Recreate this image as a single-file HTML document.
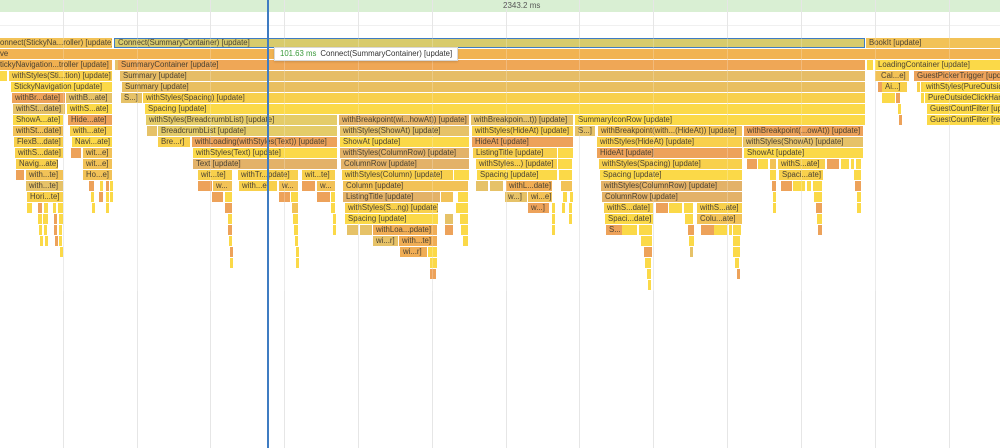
<!DOCTYPE html>
<html><head><meta charset="utf-8">
<style>
html,body{margin:0;padding:0;}
body{width:1000px;height:448px;position:relative;overflow:hidden;background:#fff;font-family:"Liberation Sans",Arial,sans-serif;}
.top{position:absolute;left:0;top:0;width:1000px;height:12px;background:#d9efd3;}
.toptxt{position:absolute;left:0;top:0;width:1000px;height:12px;line-height:12px;font-size:8px;color:#555;}
.toptxt span{position:absolute;left:503px;}
.hl{position:absolute;left:0;top:25px;width:1000px;height:1px;background:#f0f0f0;}
.gl{position:absolute;top:0;width:1px;height:448px;background:#e6e6e6;}
.b{position:absolute;height:10px;line-height:10px;font-size:7.8px;color:#4b4232;padding-left:3px;box-sizing:border-box;overflow:hidden;white-space:nowrap;}
.y{background:#fbd948}.y2{background:#f8d04c}.g{background:#f2c257}.t{background:#e6c268}.t2{background:#e3b268}
.o{background:#eda25a}.o2{background:#f0ad55}.l{background:#e4cc69}.s{background:#d8cb6c}
.r0{top:38px}.r1{top:49px}.r2{top:60px}.r3{top:71px}.r4{top:82px}.r5{top:93px}.r6{top:104px}.r7{top:115px}.r8{top:126px}.r9{top:137px}.r10{top:148px}.r11{top:159px}.r12{top:170px}.r13{top:181px}.r14{top:192px}.r15{top:203px}.r16{top:214px}.r17{top:225px}.r18{top:236px}.r19{top:247px}.r20{top:258px}.r21{top:269px}.r22{top:280px}
.ov{position:absolute;top:38px;width:1px;height:253px;background:rgba(255,255,255,0.22);}
.blue{position:absolute;left:267px;top:0;width:2px;height:448px;background:#3f7cc2;}
.tip{position:absolute;left:274px;top:47px;width:184px;height:14px;background:#fff;border:1px solid #d8d8d8;box-sizing:border-box;box-shadow:0 1px 2px rgba(0,0,0,0.15);font-size:7.8px;line-height:12px;white-space:nowrap;color:#333;padding-left:5px;}
.tip .ms{color:#3a9a3a;margin-right:4px;}
</style></head><body>
<div class="top"></div>
<div class="hl"></div>
<div class="gl" style="left:63px"></div><div class="gl" style="left:137px"></div><div class="gl" style="left:210px"></div><div class="gl" style="left:284px"></div><div class="gl" style="left:358px"></div><div class="gl" style="left:432px"></div><div class="gl" style="left:506px"></div><div class="gl" style="left:579px"></div><div class="gl" style="left:653px"></div><div class="gl" style="left:727px"></div><div class="gl" style="left:801px"></div><div class="gl" style="left:875px"></div><div class="gl" style="left:949px"></div>
<div class="toptxt"><span>2343.2 ms</span></div>

<!-- row 0 -->
<div class="b g r0" style="left:0;width:112px;padding-left:0">onnect(StickyNa...roller) [update]</div>
<div class="b s r0" style="left:114px;width:751px;border:1px solid #3f7cc2;line-height:8px">Connect(SummaryContainer) [update]</div>
<div class="b g r0" style="left:866px;width:134px">BookIt [update]</div>
<!-- row 1 -->
<div class="b r1" style="left:0;width:1000px;padding-left:0;background:#f1b352">ve</div>
<!-- row 2 -->
<div class="b r2" style="left:0;width:112px;padding-left:0;background:#f1b050">tickyNavigation...troller [update]</div>
<div class="b t r2" style="left:115px;width:2px"></div>
<div class="b r2" style="left:118px;width:747px;background:#efa756">SummaryContainer [update]</div>
<div class="b y r2" style="left:867px;width:6px"></div>
<div class="b y r2" style="left:875px;width:125px">LoadingContainer [update]</div>
<!-- row 3 -->
<div class="b y r3" style="left:0;width:7px"></div>
<div class="b y2 r3" style="left:9px;width:103px">withStyles(Sti...tion) [update]</div>
<div class="b r3" style="left:120px;width:745px;background:#e6bd66">Summary [update]</div>
<div class="b g r3" style="left:875px;width:1px"></div>
<div class="b g r3" style="left:878px;width:31px">Cal...e]</div>
<div class="b o r3" style="left:914px;width:86px">GuestPickerTrigger [update]</div>
<!-- row 4 -->
<div class="b y r4" style="left:11px;width:101px">StickyNavigation [update]</div>
<div class="b r4" style="left:122px;width:743px;background:#e9bf60">Summary [update]</div>
<div class="b o r4" style="left:878px;width:4px"></div>
<div class="b y2 r4" style="left:882px;width:25px">Ai...]</div>
<div class="b y2 r4" style="left:917px;width:1px"></div>
<div class="b y2 r4" style="left:921px;width:1px"></div>
<div class="b y r4" style="left:923px;width:77px">withStyles(PureOutsideClickHandler) [update]</div>
<!-- row 5 -->
<div class="b o r5" style="left:12px;width:53px">withBr...date]</div>
<div class="b t r5" style="left:66px;width:46px">withB...ate]</div>
<div class="b t r5" style="left:121px;width:21px">S...]</div>
<div class="b y2 r5" style="left:143px;width:722px">withStyles(Spacing) [update]</div>
<div class="b y r5" style="left:882px;width:13px"></div>
<div class="b o r5" style="left:896px;width:4px"></div>
<div class="b y r5" style="left:921px;width:1px"></div>
<div class="b y r5" style="left:925px;width:75px">PureOutsideClickHandler [update]</div>
<!-- row 6 -->
<div class="b t r6" style="left:13px;width:52px">withSt...date]</div>
<div class="b y r6" style="left:67px;width:45px">withS...ate]</div>
<div class="b y r6" style="left:145px;width:720px">Spacing [update]</div>
<div class="b y r6" style="left:898px;width:3px"></div>
<div class="b y r6" style="left:927px;width:73px">GuestCountFilter [update]</div>
<!-- row 7 -->
<div class="b y r7" style="left:13px;width:50px">ShowA...ate]</div>
<div class="b o r7" style="left:68px;width:44px">Hide...ate]</div>
<div class="b l r7" style="left:146px;width:191px">withStyles(BreadcrumbList) [update]</div>
<div class="b t2 r7" style="left:339px;width:130px">withBreakpoint(wi...howAt)) [update]</div>
<div class="b t r7" style="left:471px;width:102px">withBreakpoin...t)) [update]</div>
<div class="b y r7" style="left:575px;width:290px">SummaryIconRow [update]</div>
<div class="b o r7" style="left:899px;width:2px"></div>
<div class="b y r7" style="left:927px;width:73px">GuestCountFilter [render]</div>
<!-- row 8 -->
<div class="b g r8" style="left:13px;width:50px">withSt...date]</div>
<div class="b y2 r8" style="left:70px;width:42px">with...ate]</div>
<div class="b t r8" style="left:147px;width:10px"></div>
<div class="b l r8" style="left:158px;width:179px">BreadcrumbList [update]</div>
<div class="b t r8" style="left:340px;width:129px">withStyles(ShowAt) [update]</div>
<div class="b y2 r8" style="left:472px;width:101px">withStyles(HideAt) [update]</div>
<div class="b t r8" style="left:575px;width:20px">S...]</div>
<div class="b g r8" style="left:598px;width:144px">withBreakpoint(with...(HideAt)) [update]</div>
<div class="b o r8" style="left:744px;width:119px">withBreakpoint(...owAt)) [update]</div>
<!-- row 9 -->
<div class="b y2 r9" style="left:14px;width:49px">FlexB...date]</div>
<div class="b y r9" style="left:72px;width:40px">Navi...ate]</div>
<div class="b y2 r9" style="left:158px;width:32px">Bre...r]</div>
<div class="b o r9" style="left:192px;width:145px">withLoading(withStyles(Text)) [update]</div>
<div class="b y r9" style="left:340px;width:129px">ShowAt [update]</div>
<div class="b o r9" style="left:472px;width:101px">HideAt [update]</div>
<div class="b y2 r9" style="left:597px;width:145px">withStyles(HideAt) [update]</div>
<div class="b t r9" style="left:743px;width:120px">withStyles(ShowAt) [update]</div>
<!-- row 10 -->
<div class="b y2 r10" style="left:15px;width:48px">withS...date]</div>
<div class="b o r10" style="left:71px;width:10px"></div>
<div class="b g r10" style="left:83px;width:29px">wit...e]</div>
<div class="b y r10" style="left:193px;width:144px">withStyles(Text) [update]</div>
<div class="b t2 r10" style="left:340px;width:129px">withStyles(ColumnRow) [update]</div>
<div class="b y2 r10" style="left:473px;width:84px">ListingTitle [update]</div>
<div class="b y r10" style="left:558px;width:15px"></div>
<div class="b o r10" style="left:597px;width:145px">HideAt [update]</div>
<div class="b y r10" style="left:744px;width:119px">ShowAt [update]</div>
<!-- row 11 -->
<div class="b y2 r11" style="left:16px;width:42px">Navig...ate]</div>
<div class="b g r11" style="left:83px;width:29px">wit...e]</div>
<div class="b t2 r11" style="left:193px;width:144px">Text [update]</div>
<div class="b t2 r11" style="left:341px;width:128px">ColumnRow [update]</div>
<div class="b y2 r11" style="left:476px;width:81px">withStyles...) [update]</div>
<div class="b y r11" style="left:558px;width:14px"></div>
<div class="b y2 r11" style="left:599px;width:143px">withStyles(Spacing) [update]</div>
<div class="b o r11" style="left:747px;width:10px"></div>
<div class="b y r11" style="left:758px;width:10px"></div>
<div class="b g r11" style="left:770px;width:6px"></div>
<div class="b y2 r11" style="left:778px;width:47px">withS...ate]</div>
<div class="b o r11" style="left:827px;width:12px"></div>
<div class="b y r11" style="left:841px;width:8px"></div>
<div class="b y r11" style="left:851px;width:2px"></div>
<div class="b y r11" style="left:856px;width:5px"></div>
<!-- row 12 -->
<div class="b o r12" style="left:16px;width:8px"></div>
<div class="b g r12" style="left:26px;width:37px">with...te]</div>
<div class="b g r12" style="left:83px;width:29px">Ho...e]</div>
<div class="b y2 r12" style="left:198px;width:34px">wit...te]</div>
<div class="b y2 r12" style="left:238px;width:60px">withTr...pdate]</div>
<div class="b y2 r12" style="left:302px;width:33px">wit...te]</div>
<div class="b y2 r12" style="left:342px;width:111px">withStyles(Column) [update]</div>
<div class="b y r12" style="left:454px;width:15px"></div>
<div class="b y r12" style="left:477px;width:80px">Spacing [update]</div>
<div class="b y r12" style="left:559px;width:13px"></div>
<div class="b y r12" style="left:600px;width:142px">Spacing [update]</div>
<div class="b y r12" style="left:770px;width:6px"></div>
<div class="b y2 r12" style="left:779px;width:44px">Spaci...ate]</div>
<div class="b y r12" style="left:854px;width:7px"></div>
<!-- row 13 -->
<div class="b t r13" style="left:26px;width:37px">with...te]</div>
<div class="b o r13" style="left:89px;width:5px"></div>
<div class="b y r13" style="left:100px;width:2px"></div>
<div class="b o r13" style="left:106px;width:2px"></div>
<div class="b y r13" style="left:110px;width:2px"></div>
<div class="b o r13" style="left:198px;width:14px"></div>
<div class="b g r13" style="left:213px;width:19px">w...</div>
<div class="b y2 r13" style="left:239px;width:38px">with...e]</div>
<div class="b g r13" style="left:279px;width:19px">w...</div>
<div class="b o r13" style="left:302px;width:13px"></div>
<div class="b g r13" style="left:317px;width:18px">w...</div>
<div class="b g r13" style="left:343px;width:125px">Column [update]</div>
<div class="b t r13" style="left:476px;width:12px"></div>
<div class="b t r13" style="left:490px;width:13px"></div>
<div class="b o2 r13" style="left:506px;width:46px">withL...date]</div>
<div class="b g r13" style="left:561px;width:11px"></div>
<div class="b t2 r13" style="left:601px;width:141px">withStyles(ColumnRow) [update]</div>
<div class="b o r13" style="left:772px;width:4px"></div>
<div class="b o r13" style="left:781px;width:11px"></div>
<div class="b y r13" style="left:793px;width:12px"></div>
<div class="b y r13" style="left:807px;width:4px"></div>
<div class="b y r13" style="left:813px;width:9px"></div>
<div class="b o r13" style="left:855px;width:6px"></div>
<!-- row 14 -->
<div class="b y2 r14" style="left:27px;width:36px">Hori...te]</div>
<div class="b y r14" style="left:91px;width:3px"></div>
<div class="b o r14" style="left:99px;width:4px"></div>
<div class="b y r14" style="left:106px;width:2px"></div>
<div class="b y r14" style="left:110px;width:2px"></div>
<div class="b o r14" style="left:212px;width:11px"></div>
<div class="b y r14" style="left:225px;width:7px"></div>
<div class="b o r14" style="left:279px;width:11px"></div>
<div class="b y r14" style="left:291px;width:7px"></div>
<div class="b o r14" style="left:317px;width:13px"></div>
<div class="b y r14" style="left:331px;width:4px"></div>
<div class="b t2 r14" style="left:343px;width:97px">ListingTitle [update]</div>
<div class="b g r14" style="left:441px;width:12px"></div>
<div class="b y r14" style="left:458px;width:10px"></div>
<div class="b t r14" style="left:505px;width:22px">w...]</div>
<div class="b g r14" style="left:528px;width:24px">wi...e]</div>
<div class="b y r14" style="left:563px;width:4px"></div>
<div class="b y r14" style="left:570px;width:2px"></div>
<div class="b t2 r14" style="left:602px;width:140px">ColumnRow [update]</div>
<div class="b y r14" style="left:773px;width:3px"></div>
<div class="b y r14" style="left:814px;width:8px"></div>
<div class="b y r14" style="left:857px;width:4px"></div>
<!-- row 15 -->
<div class="b y r15" style="left:27px;width:1px"></div>
<div class="b y r15" style="left:29px;width:3px"></div>
<div class="b o r15" style="left:38px;width:4px"></div>
<div class="b y r15" style="left:44px;width:4px"></div>
<div class="b y r15" style="left:53px;width:3px"></div>
<div class="b y r15" style="left:58px;width:5px"></div>
<div class="b y r15" style="left:92px;width:2px"></div>
<div class="b y r15" style="left:106px;width:2px"></div>
<div class="b o r15" style="left:225px;width:7px"></div>
<div class="b g r15" style="left:292px;width:6px"></div>
<div class="b y r15" style="left:331px;width:4px"></div>
<div class="b y2 r15" style="left:345px;width:93px">withStyles(S...ng) [update]</div>
<div class="b y r15" style="left:456px;width:1px"></div>
<div class="b y r15" style="left:458px;width:10px"></div>
<div class="b o r15" style="left:528px;width:21px">w...]</div>
<div class="b y r15" style="left:552px;width:2px"></div>
<div class="b y r15" style="left:562px;width:2px"></div>
<div class="b y r15" style="left:569px;width:2px"></div>
<div class="b y2 r15" style="left:604px;width:49px">withS...date]</div>
<div class="b o r15" style="left:656px;width:12px"></div>
<div class="b y r15" style="left:669px;width:13px"></div>
<div class="b y r15" style="left:684px;width:9px"></div>
<div class="b y2 r15" style="left:697px;width:45px">withS...ate]</div>
<div class="b y r15" style="left:773px;width:3px"></div>
<div class="b o r15" style="left:816px;width:6px"></div>
<div class="b y r15" style="left:857px;width:4px"></div>
<!-- row 16 -->
<div class="b y r16" style="left:38px;width:4px"></div>
<div class="b y r16" style="left:43px;width:5px"></div>
<div class="b o r16" style="left:54px;width:3px"></div>
<div class="b y r16" style="left:59px;width:4px"></div>
<div class="b y r16" style="left:228px;width:4px"></div>
<div class="b y r16" style="left:293px;width:5px"></div>
<div class="b y r16" style="left:333px;width:3px"></div>
<div class="b y r16" style="left:345px;width:93px">Spacing [update]</div>
<div class="b t r16" style="left:445px;width:8px"></div>
<div class="b y r16" style="left:460px;width:8px"></div>
<div class="b y r16" style="left:552px;width:2px"></div>
<div class="b y r16" style="left:569px;width:2px"></div>
<div class="b y r16" style="left:605px;width:48px">Spaci...date]</div>
<div class="b y r16" style="left:685px;width:8px"></div>
<div class="b g r16" style="left:697px;width:45px">Colu...ate]</div>
<div class="b y r16" style="left:817px;width:5px"></div>
<!-- row 17 -->
<div class="b y r17" style="left:39px;width:3px"></div>
<div class="b y r17" style="left:44px;width:3px"></div>
<div class="b o r17" style="left:54px;width:3px"></div>
<div class="b y r17" style="left:59px;width:3px"></div>
<div class="b o r17" style="left:228px;width:4px"></div>
<div class="b y r17" style="left:294px;width:4px"></div>
<div class="b y r17" style="left:333px;width:3px"></div>
<div class="b t r17" style="left:347px;width:11px"></div>
<div class="b t r17" style="left:360px;width:12px"></div>
<div class="b o2 r17" style="left:373px;width:64px">withLoa...pdate]</div>
<div class="b o r17" style="left:445px;width:8px"></div>
<div class="b y r17" style="left:461px;width:7px"></div>
<div class="b y r17" style="left:552px;width:2px"></div>
<div class="b o r17" style="left:606px;width:16px">S...</div>
<div class="b y r17" style="left:622px;width:15px"></div>
<div class="b y r17" style="left:639px;width:1px"></div>
<div class="b y r17" style="left:641px;width:11px"></div>
<div class="b o r17" style="left:688px;width:6px"></div>
<div class="b o r17" style="left:701px;width:13px"></div>
<div class="b y r17" style="left:714px;width:13px"></div>
<div class="b y r17" style="left:729px;width:2px"></div>
<div class="b y r17" style="left:733px;width:8px"></div>
<div class="b o r17" style="left:818px;width:4px"></div>
<!-- row 18 -->
<div class="b y r18" style="left:40px;width:2px"></div>
<div class="b y r18" style="left:45px;width:2px"></div>
<div class="b o r18" style="left:55px;width:2px"></div>
<div class="b y r18" style="left:59px;width:3px"></div>
<div class="b y r18" style="left:229px;width:3px"></div>
<div class="b y r18" style="left:295px;width:3px"></div>
<div class="b t r18" style="left:373px;width:25px">wi...r]</div>
<div class="b o2 r18" style="left:399px;width:38px">with...te]</div>
<div class="b y r18" style="left:463px;width:5px"></div>
<div class="b y r18" style="left:641px;width:11px"></div>
<div class="b y r18" style="left:689px;width:5px"></div>
<div class="b y r18" style="left:733px;width:7px"></div>
<!-- row 19 -->
<div class="b y r19" style="left:60px;width:2px"></div>
<div class="b o r19" style="left:230px;width:2px"></div>
<div class="b y r19" style="left:296px;width:2px"></div>
<div class="b o2 r19" style="left:400px;width:27px">wi...r]</div>
<div class="b y r19" style="left:428px;width:9px"></div>
<div class="b o r19" style="left:644px;width:8px"></div>
<div class="b t r19" style="left:690px;width:3px"></div>
<div class="b y r19" style="left:733px;width:7px"></div>
<!-- row 20 -->
<div class="b y r20" style="left:230px;width:2px"></div>
<div class="b y r20" style="left:296px;width:2px"></div>
<div class="b y r20" style="left:430px;width:7px"></div>
<div class="b y r20" style="left:645px;width:6px"></div>
<div class="b y r20" style="left:735px;width:4px"></div>
<!-- row 21 -->
<div class="b o r21" style="left:430px;width:6px"></div>
<div class="b y r21" style="left:647px;width:4px"></div>
<div class="b o r21" style="left:737px;width:2px"></div>
<!-- row 22 -->
<div class="b y r22" style="left:648px;width:3px"></div>

<!-- grid overlay on boxes -->
<div class="ov" style="left:63px"></div><div class="ov" style="left:137px"></div><div class="ov" style="left:210px"></div><div class="ov" style="left:284px"></div><div class="ov" style="left:358px"></div><div class="ov" style="left:432px"></div><div class="ov" style="left:506px"></div><div class="ov" style="left:579px"></div><div class="ov" style="left:653px"></div><div class="ov" style="left:727px"></div><div class="ov" style="left:801px"></div><div class="ov" style="left:875px"></div><div class="ov" style="left:949px"></div>

<div class="blue"></div>
<div class="tip"><span class="ms">101.63 ms</span>Connect(SummaryContainer) [update]</div>
</body></html>
